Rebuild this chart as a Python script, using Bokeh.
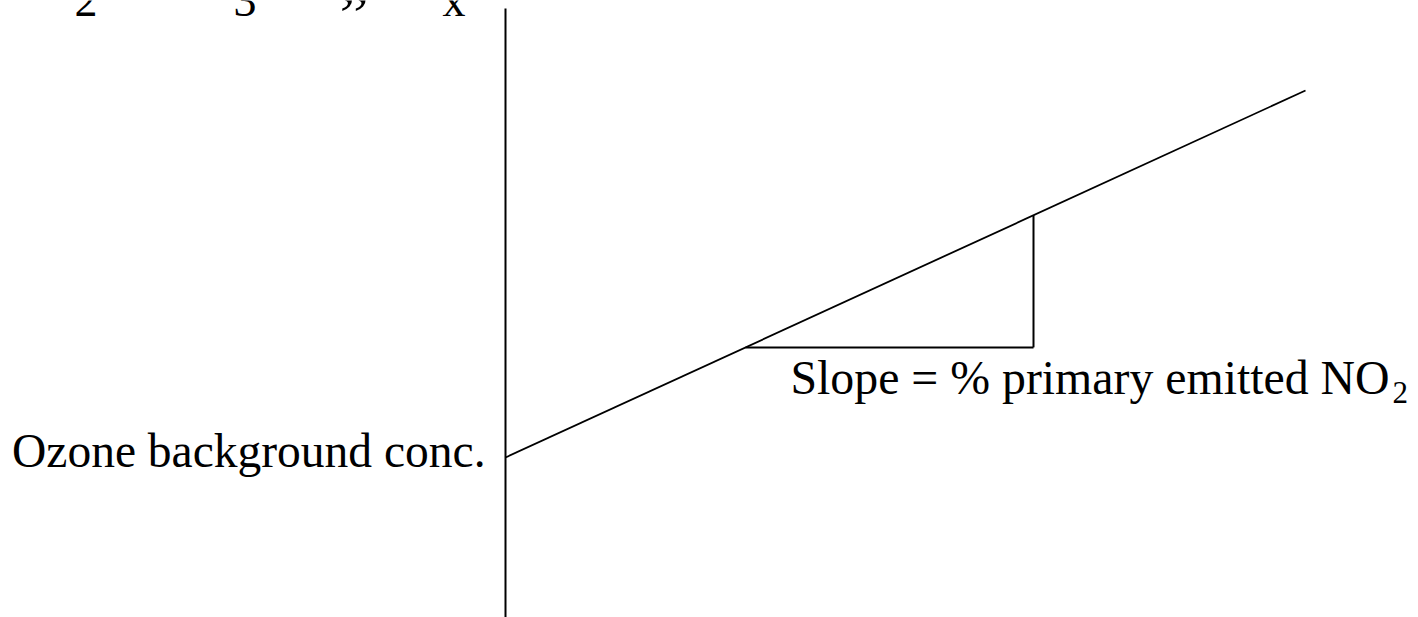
import numpy as np
from bokeh.plotting import figure
from bokeh.models import Range1d
from bokeh.core.properties import value
from bokeh.embed import file_html
from bokeh.resources import INLINE

# ---- data (schematic: oxidant [NO2 + O3] against NOx) ----
nox_conc = [0, 100]            # NOx at the ends of the fitted line
ox_conc = [40.0, 131.75]       # NO2 + O3 at those ends (intercept = ozone background)
slope_tri_nox = [30, 66]       # NOx span of the slope triangle
background_label = "Ozone background conc."
slope_label = "Slope = % primary emitted NO"
slope_sub = "2"
top_fragments = ["2", "3", "x"]   # visible lower parts of the cut-off title line
top_quote = "\u201d"

W, H = 1418, 617
PX_X = 8.0   # px per NOx unit
PX_Y = 4.0   # px per oxidant unit
X0 = 505     # canvas x of NOx = 0

p = figure(width=W, height=H,
           x_range=Range1d(-X0 / PX_X, (W - X0) / PX_X),
           y_range=Range1d(0, H / PX_Y),
           x_axis_type=None, y_axis_type=None,
           toolbar_location=None, output_backend="svg",
           min_border=0, min_border_left=0, min_border_right=0,
           min_border_top=0, min_border_bottom=0)
p.grid.visible = False
p.outline_line_color = None
p.background_fill_color = "white"
p.border_fill_color = "white"

FONT = value("Liberation Serif")
SHIFT = 0.33  # em; baseline correction for text rendering


def py(px_from_top):
    return (H - px_from_top) / PX_Y


def px(x_pix):
    return (x_pix - X0) / PX_X


def base(px_baseline, size):
    return py(px_baseline - SHIFT * size)


# vertical axis (NOx = 0)
p.segment(x0=[0], y0=[p.y_range.start], x1=[0], y1=[py(8)],
          line_color="black", line_width=2)

# fitted line
p.line(nox_conc, ox_conc, line_color="black", line_width=1.8)

# slope triangle built on the line
slope = (ox_conc[1] - ox_conc[0]) / (nox_conc[1] - nox_conc[0])
ty0 = ox_conc[0] + slope * slope_tri_nox[0]
ty1 = ox_conc[0] + slope * slope_tri_nox[1]
p.segment(x0=[slope_tri_nox[0], slope_tri_nox[1]], y0=[ty0, ty0],
          x1=[slope_tri_nox[1], slope_tri_nox[1]], y1=[ty0, ty1],
          line_color="black", line_width=2)

# labels
p.text(x=[px(485)], y=[base(466, 47.5)], text=[background_label],
       text_font=FONT, text_font_size="47.5px", text_color="black",
       text_align="right", text_baseline="alphabetic")

p.text(x=[px(790)], y=[base(393, 47.8)], text=[slope_label],
       text_font=FONT, text_font_size="47.8px", text_color="black",
       text_align="left", text_baseline="alphabetic")
p.text(x=[px(1392)], y=[base(402, 31)], text=[slope_sub],
       text_font=FONT, text_font_size="31px", text_color="black",
       text_align="left", text_baseline="alphabetic")

# cut-off title line at the top
top_x = [px(74), px(233), px(442)]
p.text(x=top_x, y=[min(base(14, 46), p.y_range.end)] * 3, text=top_fragments,
       text_font=FONT, text_font_size="46px", text_color="black",
       text_align="left", text_baseline="alphabetic")
p.text(x=[px(339)], y=[base(36, 66)], text=[top_quote],
       text_font=FONT, text_font_size="66px", text_color="black",
       text_align="left", text_baseline="alphabetic")

open("out.html", "w").write(file_html(p, INLINE))
